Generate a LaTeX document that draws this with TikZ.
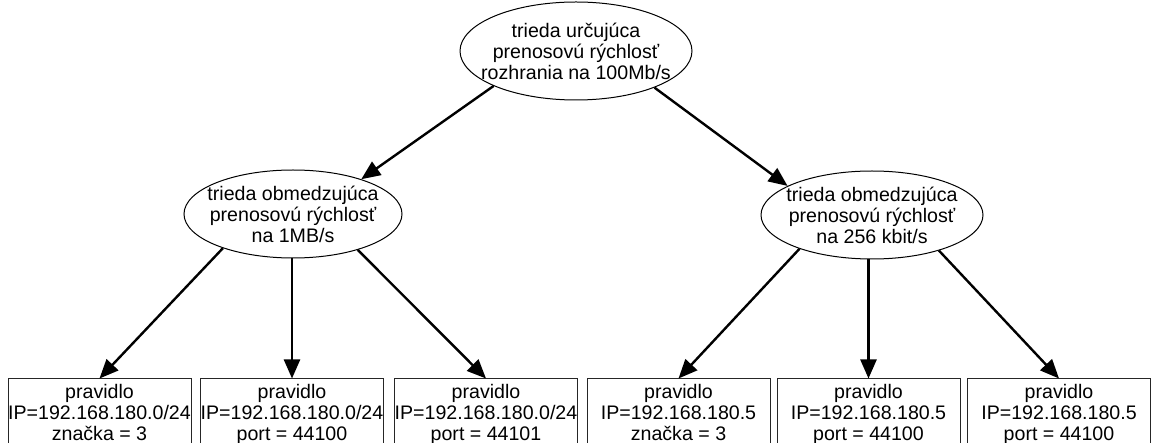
\documentclass[tikz,border=0pt]{standalone}
\usepackage{fontspec}
\setmainfont{Liberation Sans}
\usetikzlibrary{shapes.geometric,arrows.meta}
\tikzset{
  ell/.style={draw=black, line width=1pt, ellipse, inner sep=0pt},
  txt/.style={align=center, inner sep=0pt, font=\fontsize{19.6}{21}\selectfont},
  rulebox/.style={draw=black!85, line width=1pt, rectangle, inner sep=0pt, minimum width=183pt, minimum height=91pt},
  arr/.style={line width=2.4pt, -{Triangle[length=19pt,width=16pt]}}
}
\begin{document}
\begin{tikzpicture}[x=1pt,y=-1pt]
\useasboundingbox (0,0) rectangle (1151,443);
\clip (0,0) rectangle (1151,443);
% ellipses
\node[ell, minimum width=232pt, minimum height=98pt] (top) at (576,51) {};
\node[txt] (topt) at (top) {trieda určujúca\\prenosovú rýchlosť\\rozhrania na 100Mb/s};
\node[ell, minimum width=218pt, minimum height=88pt] (l) at (293,214) {};
\node[txt] (lt) at (l) {trieda obmedzujúca\\prenosovú rýchlosť\\na 1MB/s};
\node[ell, minimum width=222pt, minimum height=88pt] (r) at (872,215) {};
\node[txt] (rt) at (r) {trieda obmedzujúca\\prenosovú rýchlosť\\na 256 kbit/s};
% boxes
\node[rulebox] (b1) at (99.5,424.5) {};
\node[rulebox] (b2) at (292,424.5) {};
\node[rulebox] (b3) at (486,424.5) {};
\node[rulebox] (b4) at (678.5,424.5) {};
\node[rulebox] (b5) at (868.5,424.5) {};
\node[rulebox] (b6) at (1059,424.5) {};
\node[txt, anchor=north] (t1) at ([yshift=-5.5pt]b1.north) {pravidlo\\IP=192.168.180.0/24\\značka = 3};
\node[txt, anchor=north] (t2) at ([yshift=-5.5pt]b2.north) {pravidlo\\IP=192.168.180.0/24\\port = 44100};
\node[txt, anchor=north] (t3) at ([yshift=-5.5pt]b3.north) {pravidlo\\IP=192.168.180.0/24\\port = 44101};
\node[txt, anchor=north] (t4) at ([yshift=-5.5pt]b4.north) {pravidlo\\IP=192.168.180.5\\značka = 3};
\node[txt, anchor=north] (t5) at ([yshift=-5.5pt]b5.north) {pravidlo\\IP=192.168.180.5\\port = 44100};
\node[txt, anchor=north] (t6) at ([yshift=-5.5pt]b6.north) {pravidlo\\IP=192.168.180.5\\port = 44100};
% arrows
\draw[arr] (top.203) -- (l.27);
\draw[arr] (top.335) -- (r.161);
\draw[arr] (l.206) -- (b1.north);
\draw[arr] (l.south -| b2.north) -- (b2.north);
\draw[arr] (l.331) -- (b3.north);
\draw[arr] (r.205) -- (b4.north);
\draw[arr] (r.south -| b5.north) -- (b5.north);
\draw[arr] (r.332) -- (b6.north);
\end{tikzpicture}
\end{document}
